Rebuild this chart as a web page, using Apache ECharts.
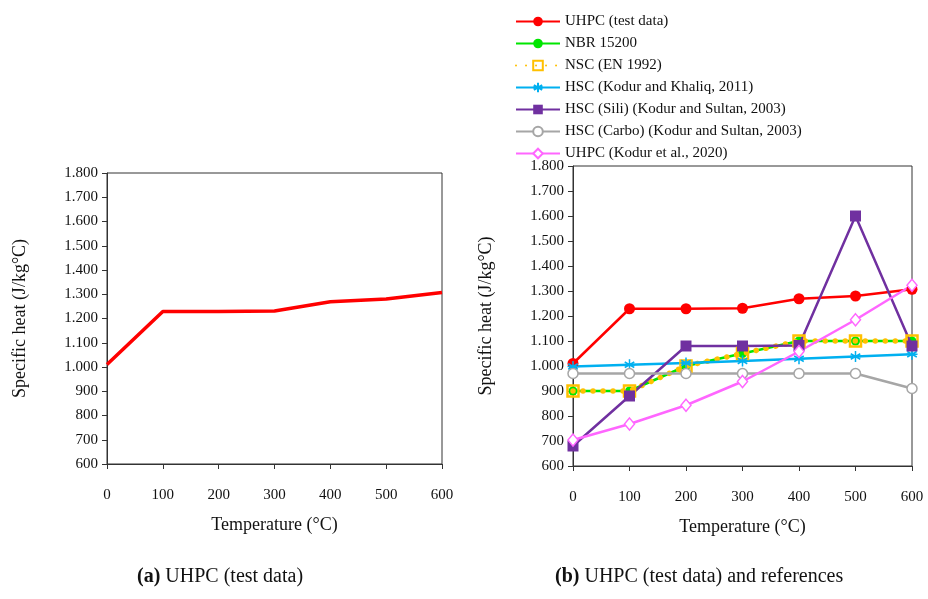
<!DOCTYPE html>
<html>
<head>
<meta charset="utf-8">
<script src="https://cdn.jsdelivr.net/npm/echarts@6/dist/echarts.min.js"></script>
<style>
html,body{margin:0;padding:0;background:#fff;}
#chart{width:928px;height:599px;}
</style>
</head>
<body>
<div id="chart"></div>
<script>
// ---- data ----
const temps = [0, 100, 200, 300, 400, 500, 600];
const xTickLabels = ['0', '100', '200', '300', '400', '500', '600'];
const yTickValues = [600, 700, 800, 900, 1000, 1100, 1200, 1300, 1400, 1500, 1600, 1700, 1800];
const yTickLabels = ['600', '700', '800', '900', '1.000', '1.100', '1.200', '1.300', '1.400', '1.500', '1.600', '1.700', '1.800'];

const seriesNames = [
  'UHPC (test data)',
  'NBR 15200',
  'NSC (EN 1992)',
  'HSC (Kodur and Khaliq, 2011)',
  'HSC (Sili) (Kodur and Sultan, 2003)',
  'HSC (Carbo) (Kodur and Sultan, 2003)',
  'UHPC (Kodur et al., 2020)'
];
const uhpcTest = [1010, 1229, 1229, 1231, 1269, 1280, 1307];
const nbr15200 = [900, 900, 1000, 1050, 1100, 1100, 1100];
const nscEN1992 = [900, 900, 1000, 1050, 1100, 1100, 1100];
const hscKodurKhaliq = [998, 1005, 1012, 1020, 1029, 1038, 1047];
const hscSili = [680, 880, 1080, 1080, 1082, 1600, 1080];
const hscCarbo = [970, 970, 970, 970, 970, 970, 910];
const uhpcKodur2020 = [704, 768, 843, 938, 1058, 1185, 1323];

const captionA = ['(a)', ' UHPC (test data)'];
const captionB = ['(b)', ' UHPC (test data) and references'];

// ---- helpers ----
const pairs = arr => temps.map((t, i) => [t, arr[i]]);
const FONT = "'Liberation Serif', 'DejaVu Serif', serif";
const yFmt = v => { const i = yTickValues.indexOf(v); return i >= 0 ? yTickLabels[i] : ''; };
const xFmt = v => { const i = temps.indexOf(v); return i >= 0 ? xTickLabels[i] : ''; };

function xAxisCfg(gi) {
  return {
    gridIndex: gi, type: 'value', min: 0, max: 600, interval: 100,
    name: 'Temperature (°C)', nameLocation: 'middle', nameGap: 52,
    nameTextStyle: { fontFamily: FONT, fontSize: 18, color: '#111' },
    axisLine: { show: true, onZero: false, lineStyle: { color: '#333', width: 1 } },
    axisTick: { show: true, length: 5, inside: false, lineStyle: { color: '#333' } },
    axisLabel: { fontFamily: FONT, fontSize: 15, color: '#111', margin: 24, formatter: xFmt },
    splitLine: { show: false }
  };
}
function yAxisCfg(gi) {
  return {
    gridIndex: gi, type: 'value', min: 600, max: 1800, interval: 100,
    name: 'Specific heat (J/kg°C)', nameLocation: 'middle', nameGap: 78, nameRotate: 90,
    nameTextStyle: { fontFamily: FONT, fontSize: 18, color: '#111' },
    axisLine: { show: true, lineStyle: { color: '#333', width: 1 } },
    axisTick: { show: true, length: 5, inside: false, lineStyle: { color: '#333' } },
    axisLabel: { fontFamily: FONT, fontSize: 15, color: '#111', margin: 9, formatter: yFmt },
    splitLine: { show: false }
  };
}

const asterisk = 'path://M0,-10L0,10M-8.66,-5L8.66,5M-8.66,5L8.66,-5M-10,0L10,0';

const option = {
  backgroundColor: '#fff',
  animation: false,
  grid: [
    { left: 107, top: 173, width: 335, height: 291, show: true, borderColor: '#333', borderWidth: 1, backgroundColor: 'transparent' },
    { left: 573, top: 166, width: 339, height: 300, show: true, borderColor: '#333', borderWidth: 1, backgroundColor: 'transparent' }
  ],
  xAxis: [xAxisCfg(0), xAxisCfg(1)],
  yAxis: [yAxisCfg(0), yAxisCfg(1)],
  legend: {
    data: seriesNames,
    orient: 'vertical', left: 510, top: 9,
    itemWidth: 44, itemHeight: 12, itemGap: 7,
    textStyle: { fontFamily: FONT, fontSize: 15, color: '#111' }
  },
  graphic: [
    { type: 'text', left: 137, top: 567,
      style: { text: '{b|' + captionA[0] + '}{n|' + captionA[1] + '}',
        rich: { b: { fontFamily: FONT, fontSize: 20, fontWeight: 'bold', fill: '#111' }, n: { fontFamily: FONT, fontSize: 20, fill: '#111' } } } },
    { type: 'text', left: 555, top: 567,
      style: { text: '{b|' + captionB[0] + '}{n|' + captionB[1] + '}',
        rich: { b: { fontFamily: FONT, fontSize: 20, fontWeight: 'bold', fill: '#111' }, n: { fontFamily: FONT, fontSize: 20, fill: '#111' } } } }
  ],
  series: [
    { name: 'UHPC (test data) [a]', type: 'line', xAxisIndex: 0, yAxisIndex: 0,
      data: pairs(uhpcTest), showSymbol: false, symbol: 'none',
      lineStyle: { color: '#FF0000', width: 3.5 }, itemStyle: { color: '#FF0000' } },

    { name: seriesNames[0], type: 'line', xAxisIndex: 1, yAxisIndex: 1, data: pairs(uhpcTest),
      symbol: 'circle', symbolSize: 11,
      lineStyle: { color: '#FF0000', width: 2.5 }, itemStyle: { color: '#FF0000' } },
    { name: seriesNames[1], type: 'line', xAxisIndex: 1, yAxisIndex: 1, data: pairs(nbr15200),
      symbol: 'circle', symbolSize: 9, z: 2,
      lineStyle: { color: '#00E600', width: 2.5 }, itemStyle: { color: '#00E600' } },
    { name: seriesNames[2], type: 'line', xAxisIndex: 1, yAxisIndex: 1, data: pairs(nscEN1992),
      symbol: 'rect', symbolSize: 11, z: 3,
      lineStyle: { color: '#FFC000', width: 5.5, type: [0.01, 10], cap: 'round' },
      itemStyle: { color: 'rgba(255,255,255,0)', borderColor: '#FFC000', borderWidth: 2.5 } },
    { name: seriesNames[3], type: 'line', xAxisIndex: 1, yAxisIndex: 1, data: pairs(hscKodurKhaliq),
      symbol: asterisk, symbolSize: 11,
      lineStyle: { color: '#00B0F0', width: 2.5 }, itemStyle: { color: '#00B0F0', borderColor: '#00B0F0', borderWidth: 1.5 } },
    { name: seriesNames[4], type: 'line', xAxisIndex: 1, yAxisIndex: 1, data: pairs(hscSili),
      symbol: 'rect', symbolSize: 11,
      lineStyle: { color: '#7030A0', width: 2.5 }, itemStyle: { color: '#7030A0' } },
    { name: seriesNames[5], type: 'line', xAxisIndex: 1, yAxisIndex: 1, data: pairs(hscCarbo),
      symbol: 'circle', symbolSize: 10,
      lineStyle: { color: '#A6A6A6', width: 2.5 }, itemStyle: { color: '#fff', borderColor: '#A6A6A6', borderWidth: 1.5 } },
    { name: seriesNames[6], type: 'line', xAxisIndex: 1, yAxisIndex: 1, data: pairs(uhpcKodur2020),
      symbol: 'diamond', symbolSize: [10, 12],
      lineStyle: { color: '#FF66FF', width: 2.5 }, itemStyle: { color: '#fff', borderColor: '#FF66FF', borderWidth: 1.5 } }
  ]
};

const chart = echarts.init(document.getElementById('chart'), null, { renderer: 'canvas' });
chart.setOption(option);
</script>
</body>
</html>
